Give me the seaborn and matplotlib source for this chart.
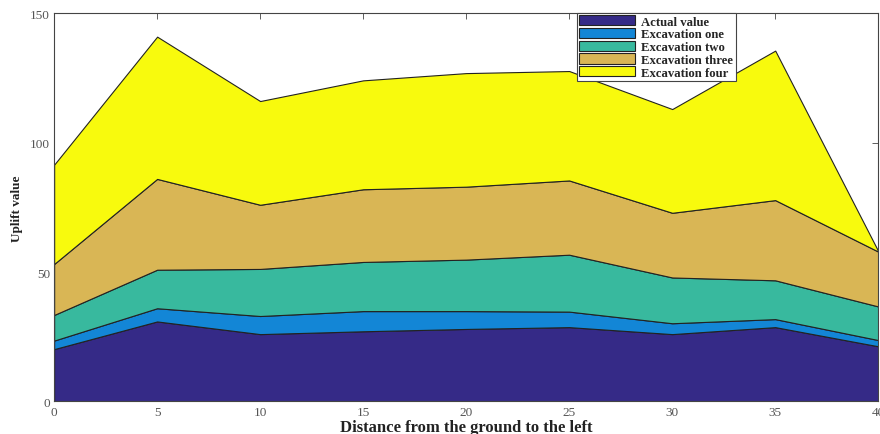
import numpy as np
import matplotlib
matplotlib.use("Agg")
import matplotlib.pyplot as plt
import seaborn as sns

# distance from the ground (x) and the layer heights
distance = [0, 5, 10, 15, 20, 25, 30, 35, 40]
actual_value = [20.2, 30.9, 26.0, 27.1, 28.0, 28.7, 26.0, 28.7, 21.3]
excavation_one = [3.3, 5.1, 7.0, 7.8, 6.9, 6.0, 4.2, 3.1, 2.4]
excavation_two = [9.9, 14.9, 18.2, 19.0, 19.9, 22.0, 17.7, 15.0, 13.0]
excavation_three = [19.7, 35.1, 24.8, 28.1, 28.2, 28.7, 25.0, 31.0, 21.2]
excavation_four = [38.4, 55.0, 40.1, 42.1, 43.9, 42.3, 40.1, 57.8, 0.2]

series_names = ["Actual value", "Excavation one", "Excavation two",
                "Excavation three", "Excavation four"]
colors = ["#352a87", "#1386d6", "#38b99e", "#d9b655", "#f8fa0d"]

sns.set_theme(style="white")
plt.rcParams["font.family"] = ["Liberation Serif", "DejaVu Serif"]

fig, ax = plt.subplots(figsize=(8.8, 4.35), dpi=100)
fig.subplots_adjust(left=0.0615, right=0.998, top=0.967, bottom=0.075)

ax.stackplot(distance,
             actual_value, excavation_one, excavation_two,
             excavation_three, excavation_four,
             labels=series_names, colors=sns.color_palette(colors),
             edgecolor="#222222", linewidth=0.8)

ax.set_xlim(0, 40)
ax.set_ylim(0, 150)
ax.set_xticks(range(0, 41, 5))
ax.set_yticks([0, 50, 100, 150])
ax.tick_params(direction="in", length=4, width=0.6, top=True, right=True,
               labelsize=9.5, labelcolor="#555555", color="#444444", pad=3)
for s in ax.spines.values():
    s.set_color("#444444")
    s.set_linewidth(0.8)

ax.set_xlabel("Distance from the ground to the left", fontsize=12,
              fontweight="bold", color="#222222", labelpad=1)
ax.set_ylabel("Uplift value", fontsize=9.5, fontweight="bold",
              color="#222222", labelpad=5)

leg = ax.legend(loc="upper left", bbox_to_anchor=(0.634, 1.002),
                prop={"weight": "bold", "size": 9.2}, frameon=True,
                fancybox=False, edgecolor="#444444", framealpha=1,
                handlelength=4.4, handleheight=0.85, labelspacing=0.02,
                borderpad=0.2, handletextpad=0.45, borderaxespad=0)
leg.get_frame().set_linewidth(0.8)
for h in leg.legend_handles:
    h.set_edgecolor("#222222")
    h.set_linewidth(0.8)

fig.savefig("out.png", dpi=100)
